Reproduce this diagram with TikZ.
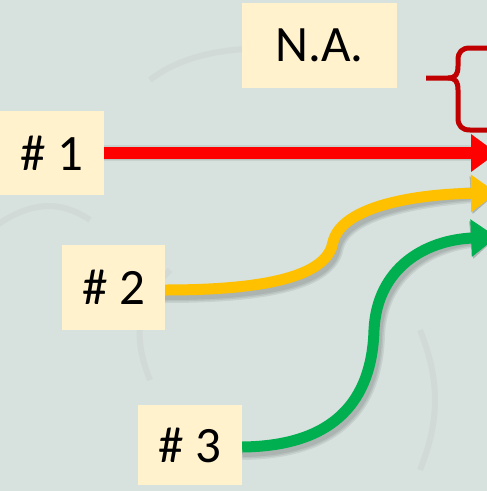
\documentclass[tikz,border=0pt]{standalone}
\usepackage{fontspec}
\setmainfont{Carlito}
\usetikzlibrary{arrows.meta}
\definecolor{bgc}{HTML}{D7E1DE}
\definecolor{boxc}{HTML}{FFF2CC}
\definecolor{redc}{HTML}{FF0000}
\definecolor{yelc}{HTML}{FFC000}
\definecolor{grnc}{HTML}{00B050}
\definecolor{brc}{HTML}{C00000}
\begin{document}
\begin{tikzpicture}[x=1pt,y=-1pt,
  labelbox/.style={fill=boxc, inner sep=0pt, font=\fontsize{51}{51}\selectfont, text=black},
  arr/.style={line width=#1, -{Triangle[length=26pt,width=36pt]}},
  shadow/.style={line width=#1, draw=black, opacity=0.07, -{Triangle[length=26pt,width=36pt]}}]
\useasboundingbox (0,0) rectangle (487,491);
\fill[bgc] (0,0) rectangle (487,491);
\clip (0,0) rectangle (487,491);
% faint background swirls
\begin{scope}[draw=black!3!bgc, line width=6pt]
\draw (150,80) .. controls (200,40) and (300,40) .. (360,70);
\draw (-10,230) .. controls (30,200) and (60,200) .. (90,220);
\draw (150,380) .. controls (130,330) and (140,300) .. (170,270);
\draw (420,330) .. controls (440,380) and (440,420) .. (420,470);
\end{scope}
% boxes
\node[labelbox, minimum width=155pt, minimum height=85pt] (na) at (319.5,45.5) {N.A.};
\node[labelbox, minimum width=104pt, minimum height=84pt] (n1) at (52,153) {\# 1};
\node[labelbox, minimum width=103pt, minimum height=85pt] (n2) at (113.5,287.5) {\# 2};
\node[labelbox, minimum width=104pt, minimum height=80pt] (n3) at (190,445) {\# 3};
% target coordinates
\coordinate (t1) at (497,153);
\coordinate (t2) at (497,193);
\coordinate (t3) at (497,237);
% soft shadows
\foreach \w/\dx/\dy in {16pt/3/5, 13pt/3/5, 10pt/3/5}{
\begin{scope}[shift={(\dx,\dy)}]
\draw[shadow=\w] (n1.east) -- (t1);
\draw[shadow=\w] (n2.east |- 0,290) .. controls (280,290) and (328,272) .. (333,242) .. controls (342,205) and (420,194) .. (t2);
\draw[shadow=\w] (n3.east |- 0,447) .. controls (335,446) and (372,400) .. (374,330) .. controls (377,268) and (425,240) .. (t3);
\end{scope}}
% arrows
\draw[arr=12pt, draw=redc, redc] (n1.east) -- (t1);
\draw[arr=11pt, draw=yelc, yelc] (n2.east |- 0,290) .. controls (280,290) and (328,272) .. (333,242) .. controls (342,205) and (420,194) .. (t2);
\draw[arr=11pt, draw=grnc, grnc] (n3.east |- 0,447) .. controls (335,446) and (372,400) .. (374,330) .. controls (377,268) and (425,240) .. (t3);
% brace
\coordinate (bt) at (492,48);
\coordinate (bb) at (492,130);
\draw[brc, line width=5pt, line join=round]
  (426,78) -- (448,78) .. controls (456,78) and (458,74) .. (458,66) -- (458,60)
  .. controls (458,52) and (462,48) .. (470,48) -- (bt);
\draw[brc, line width=5pt, line join=round]
  (448,78) .. controls (456,78) and (458,82) .. (458,90) -- (458,118)
  .. controls (458,126) and (462,130) .. (470,130) -- (bb);
\end{tikzpicture}
\end{document}
